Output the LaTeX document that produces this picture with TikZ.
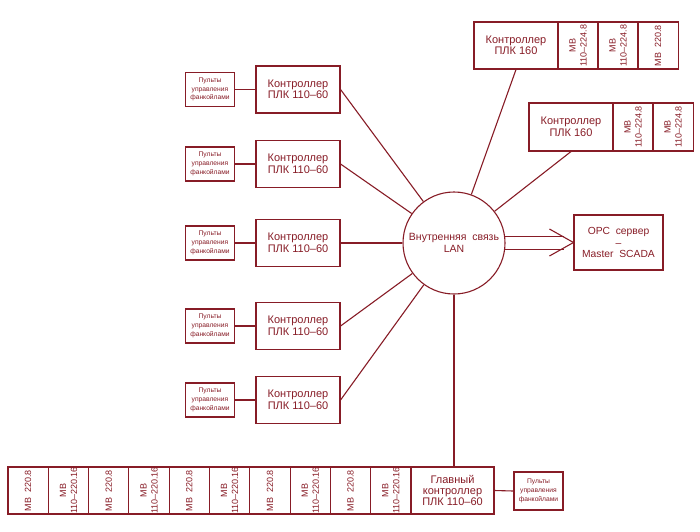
\documentclass[tikz,border=0pt]{standalone}
\usepackage{fontspec}
\setmainfont{Liberation Sans}
\definecolor{ln}{RGB}{135,28,38}
\begin{document}
\begin{tikzpicture}[x=1pt,y=-1pt,line width=1.1pt,
  every node/.style={text=ln},
  box/.style={draw=ln,rectangle,inner sep=0pt,align=center},
  ctl/.style={box,minimum width=84pt,minimum height=47pt,font=\fontsize{11}{11.5}\selectfont},
  pult/.style={box,minimum width=49pt,minimum height=34pt,font=\fontsize{6.7}{8.7}\selectfont},
  mb/.style={box,rotate=90,minimum width=47pt,minimum height=40.3pt,font=\fontsize{9}{11}\selectfont},
  wire/.style={draw=ln}]
\useasboundingbox (0,0) rectangle (700,531);

% central LAN circle
\node[draw=ln,circle,minimum size=102pt,inner sep=0pt,align=center,
      font=\fontsize{10.5}{11.5}\selectfont] (lan) at (454,243) {Внутренняя\ \ связь\\LAN};

% OPC server
\node[box,minimum width=89pt,minimum height=55pt,font=\fontsize{10.3}{11.5}\selectfont]
  (opc) at (618.5,242.5) {OPC\ \ сервер\\–\\Master\ \ SCADA};

% top right group A
\node[ctl] (ca) at (516,45.5) {Контроллер\\ПЛК 160};
\node[mb] (a1) at (578,45.5) {МВ\\110–224.8};
\node[mb] (a2) at (618,45.5) {МВ\\110–224.8};
\node[mb] (a3) at (658,45.5) {МВ\ \ 220.8};

% group B
\node[ctl,minimum height=48pt] (cb) at (571,127) {Контроллер\\ПЛК 160};
\node[mb,minimum width=48pt] (b1) at (633,127) {МВ\\110–224.8};
\node[mb,minimum width=48pt] (b2) at (673,127) {МВ\\110–224.8};

% left rows
\foreach \n/\y in {1/89.5,2/164,3/243,4/326,5/400}{
  \node[ctl] (c\n) at (298,\y) {Контроллер\\ПЛК 110–60};
  \node[pult] (p\n) at (210,\y) {Пульты\\управления\\фанкойлами};
  \draw[wire] (p\n.east) -- (c\n.west);
  \draw[wire] (c\n.east) -- (lan);
}

% bottom row
\node[ctl,minimum width=83pt,font=\fontsize{11}{11}\selectfont] (main) at (452.5,490.5) {Главный\\контроллер\\ПЛК 110–60};
\foreach \i in {0,2,4,6,8}{
  \node[mb] (m\i) at ({8+40.3*(\i+0.5)},490.5) {МВ\ \ 220.8};
}
\foreach \i in {1,3,5,7,9}{
  \node[mb] (m\i) at ({8+40.3*(\i+0.5)},490.5) {МВ\\110–220.16};
}
\node[pult,minimum height=38pt] (pb) at (538.5,491) {Пульты\\управления\\фанкойлами};
\draw[wire] (main.east) -- (pb.west);
\draw[wire] (lan.south) -- (lan.south |- main.north);

% connectors to top groups
\draw[wire] (ca.south) -- (lan);
\draw[wire] (cb.south) -- (lan);

% double arrow to OPC
\coordinate (tip) at (opc.west);
\draw[wire] (lan.7.3) -- ++(58.5,0);
\draw[wire] (lan.-7.3) -- ++(58.5,0);
\draw[wire] (tip) -- ++(-24,-13.5);
\draw[wire] (tip) -- ++(-24,13.5);
\end{tikzpicture}
\end{document}
